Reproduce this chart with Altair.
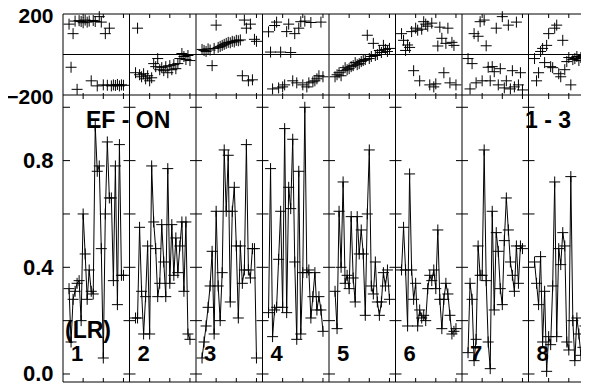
import altair as alt
import pandas as pd

PANELS = ["1", "2", "3", "4", "5", "6", "7", "8"]

AMP_1 = [0.32, 0.12, 0.28, 0.31, 0.34, 0.35, 0.20, 0.60, 0.45, 0.28, 0.39, 0.31, 0.30, 0.93,
         0.76, 0.78, 0.47, 0.06, 0.60, 0.87, 0.66, 0.66, 0.35, 0.78, 0.26, 0.86, 0.37, 0.37]
AMP_2 = [0.21, 0.21, 0.55, 0.31, 0.15, 0.29, 0.48, 0.15, 0.78, 0.57, 0.47, 0.29, 0.34, 0.56,
         0.42, 0.29, 0.77, 0.34, 0.56, 0.37, 0.51, 0.38, 0.48, 0.57, 0.31, 0.57, 0.15, 0.13]
AMP_3 = [0.06, 0.12, 0.18, 0.25, 0.33, 0.46, 0.15, 0.61, 0.33, 0.20, 0.38, 0.84, 0.61, 0.82,
         0.27, 0.61, 0.70, 0.48, 0.21, 0.48, 0.34, 0.39, 0.86, 0.39, 0.36, 0.47, 0.47, 0.06]
AMP_4 = [0.23, 0.77, 0.14, 0.24, 0.25, 0.43, 0.61, 0.25, 0.92, 0.23, 0.70, 0.62, 0.88, 0.42,
         0.13, 0.76, 0.15, 0.38, 1.00, 0.38, 0.39, 0.21, 0.29, 0.38, 0.24, 0.29, 0.24, 0.16]
AMP_5 = [0.31, 0.17, 0.61, 0.40, 0.72, 0.34, 0.37, 0.32, 0.59, 0.36, 0.27, 0.59, 0.45, 0.54,
         0.45, 0.22, 0.60, 0.84, 0.33, 0.30, 0.42, 0.27, 0.22, 0.27, 0.38, 0.33, 0.39, 0.28]
AMP_6 = [0.39, 0.55, 0.39, 0.18, 0.75, 0.39, 0.28, 0.34, 0.18, 0.24, 0.21, 0.22, 0.20, 0.32,
         0.37, 0.35, 0.39, 0.32, 0.54, 0.28, 0.17, 0.28, 0.34, 0.30, 0.22, 0.15, 0.16, 0.17]
AMP_7 = [0.08, 0.34, 0.28, 0.05, 0.13, 0.48, 0.37, 0.37, 0.84, 0.35, 0.12, 0.02, 0.61, 0.24,
         0.53, 0.46, 0.32, 0.26, 0.50, 0.66, 0.54, 0.42, 0.37, 0.31, 0.48, 0.34, 0.48, 0.47]
AMP_8 = [0.42, 0.34, 0.26, 0.44, 0.12, 0.31, 0.01, 0.14, 0.11, 0.33, 0.72, 0.14, 0.47, 0.41,
         0.53, 0.48, 0.12, 0.09, 0.74, 0.20, 0.05, 0.21, 0.15, 0.07, 0.10, 0.18, 0.12, 0.20]

PHASE_1 = [150, -63, 103, 165, -172, 167, 163, 157, 170, 160, 165, -130, 168, 163,
           -155, 187, 160, -150, 103, -152, 130, -155, -150, -153, -148, -155, -150, -152]
PHASE_2 = [-90, 130, -100, -110, -95, -120, -105, -130, -115, -45, -60, -20, -75, -65,
           -80, -60, -90, -55, -75, -50, -70, -45, -20, 5, -10, -25, -5, -30]
PHASE_3 = [25, 20, 15, 28, 22, -55, 30, 145, 35, 40, 45, 50, 55, 60,
           58, 65, 62, 70, 68, 72, -105, 170, 130, -130, 150, -125, 75, 65]
PHASE_4 = [112, 12, -170, 143, 160, -165, 12, -160, -150, 113, 150, 10, -130, 103,
           -140, 130, 162, -150, 165, -160, -140, 158, -135, -130, -120, -105, 160, -110]
PHASE_5 = [-110, -100, -90, -105, -80, -65, -75, -70, -60, -55, -40, -50, -45, -35,
           -30, -25, 95, -20, -10, 55, -5, 0, 20, 10, 45, 25, 15, 30]
PHASE_6 = [103, 70, 20, 47, 35, 113, -80, 130, 120, -130, 125, 162, 150, 140,
           -150, 155, -160, -145, 42, 135, 80, -90, 55, 130, -140, 60, 45, -150]
PHASE_7 = [-20, -170, -45, 103, -140, 90, 162, -130, 170, 43, -63, -130, -60, -85,
           130, -150, -70, 187, -165, -130, 145, -170, -80, -160, 160, -150, -90, -175]
PHASE_8 = [-20, -130, -90, 15, 30, -40, 45, 103, -60, -65, 130, 145, -95, -110,
           70, -75, -35, -15, -150, -25, -20, -10, -30, -15, -5, -20, -10, -25]

AMP_DOMAIN = [-0.03, 1.046]
PHASE_DOMAIN = [-200, 200]
AMP_TICKS = [0.0, 0.2, 0.4, 0.6, 0.8, 1.0]
AMP_LABELS = [0.0, 0.4, 0.8]
PHASE_LABELS = [-200, 200]
PHASE_LINES = [200, 0, -200]
MINOR_TICKS = [10, 20, 30]
PANEL_LEN = 33
FIRST_SAMPLE = 3

TITLE = "Uncalibrated and no bandpass applied"

amp_lists = [AMP_1, AMP_2, AMP_3, AMP_4, AMP_5, AMP_6, AMP_7, AMP_8]
phase_lists = [PHASE_1, PHASE_2, PHASE_3, PHASE_4, PHASE_5, PHASE_6, PHASE_7, PHASE_8]

rows = []
for p, (amps, phases) in enumerate(zip(amp_lists, phase_lists)):
    for i, (a, ph) in enumerate(zip(amps, phases)):
        rows.append({"panel": PANELS[p], "x": p * PANEL_LEN + FIRST_SAMPLE + i,
                     "amp": a, "phase": ph})
df = pd.DataFrame(rows)

n = len(PANELS)
starts = pd.DataFrame({"bx": [p * PANEL_LEN for p in range(n)], "label": PANELS})
dividers = pd.DataFrame({"bx": [p * PANEL_LEN for p in range(0, n + 1)]})
minor = pd.DataFrame({"bx": [p * PANEL_LEN + t for p in range(n) for t in MINOR_TICKS]})
ytick_inner = pd.DataFrame([{"bx": p * PANEL_LEN, "amp": v}
                            for p in range(1, n + 1) for v in AMP_TICKS])
ytick_left = pd.DataFrame([{"bx": 0, "amp": v} for v in AMP_TICKS])
phase_lines = pd.DataFrame({"phase": PHASE_LINES})
amp_floor = pd.DataFrame({"amp": [AMP_DOMAIN[0]]})

FONT = "Liberation Sans"
CROSS = "M-1,0L1,0M0,-1L0,1"

# full frame is 532 px wide; the page only shows the first 518 px of it
xscale = alt.Scale(domain=[0, n * PANEL_LEN], range=[0, 532], nice=False, zero=False)
phase_scale = alt.Scale(domain=PHASE_DOMAIN, range=[81, 0], nice=False, zero=False)
amp_scale = alt.Scale(domain=AMP_DOMAIN, range=[368, 81], nice=False, zero=False)

axis_common = dict(title=None, orient="left", ticks=False, domain=False, grid=False,
                   labelPadding=10, labelFont=FONT,
                   labelFontWeight="bold", labelColor="black")
phase_axis = alt.Axis(values=PHASE_LABELS, format="d", labelOffset=2, labelFontSize=21,
                      **axis_common)
amp_axis = alt.Axis(values=AMP_LABELS, format=".1f", labelFontSize=22, **axis_common)


def X(field):
    return alt.X(f"{field}:Q", scale=xscale, axis=None)


def YP():
    return alt.Y("phase:Q", scale=phase_scale, axis=phase_axis)


def YA():
    return alt.Y("amp:Q", scale=amp_scale, axis=amp_axis)


LINE = dict(color="black", strokeWidth=1)

# ---- phase panel ----
phase_pts = alt.Chart(df).mark_point(
    shape=CROSS, size=121, filled=False, strokeWidth=1, color="black", opacity=1
).encode(x=X("x"), y=YP())
phase_rules = alt.Chart(phase_lines).mark_rule(**LINE).encode(y=YP())
phase_layer = alt.layer(phase_pts, phase_rules)

# ---- amplitude panel ----
amp_line = alt.Chart(df).mark_line(**LINE).encode(x=X("x"), y=YA(), detail="panel:N")
amp_pts = alt.Chart(df).mark_point(
    shape=CROSS, size=121, filled=False, strokeWidth=1, color="black", opacity=1
).encode(x=X("x"), y=YA())
floor_rule = alt.Chart(amp_floor).mark_rule(**LINE).encode(y=YA())
yt_inner = alt.Chart(ytick_inner).mark_rule(xOffset=-6, x2Offset=6, **LINE).encode(
    x=X("bx"), x2="bx:Q", y=YA())
yt_left = alt.Chart(ytick_left).mark_rule(x2Offset=7, **LINE).encode(
    x=X("bx"), x2="bx:Q", y=YA())
div_rules = alt.Chart(dividers).mark_rule(**LINE).encode(x=X("bx"))
top_ticks = alt.Chart(minor).mark_rule(**LINE).encode(
    x=X("bx"), y=alt.value(0), y2=alt.value(4))
mid_ticks = alt.Chart(minor).mark_rule(**LINE).encode(
    x=X("bx"), y=alt.value(79), y2=alt.value(85))
bot_ticks = alt.Chart(minor).mark_rule(**LINE).encode(
    x=X("bx"), y=alt.value(364), y2=alt.value(368))

txt = dict(font=FONT, fontWeight="bold", color="black", align="left", baseline="middle")
first = "datum.bx == 0"
panel_nums = alt.Chart(starts).mark_text(dx=8, fontSize=22, **txt).encode(
    x=X("bx"), y=alt.value(340), text="label:N")
ef_on = alt.Chart(starts).transform_filter(first).mark_text(
    text="EF - ON", fontSize=23, **txt).encode(x=alt.value(23), y=alt.value(107))
one_three = alt.Chart(starts).transform_filter(first).mark_text(
    text="1 - 3", fontSize=23, **txt).encode(x=alt.value(462), y=alt.value(107))
lr = alt.Chart(starts).transform_filter(first).mark_text(
    text="(LR)", fontSize=23, **txt).encode(x=alt.value(2), y=alt.value(316.5))

amp_layer = alt.layer(amp_line, amp_pts, floor_rule, yt_inner, yt_left, div_rules,
                      top_ticks, mid_ticks, bot_ticks,
                      panel_nums, ef_on, one_three, lr)

chart = alt.layer(phase_layer, amp_layer).resolve_scale(y="independent").properties(
    width=518,
    height=368,
    autosize=alt.AutoSizeParams(type="none"),
    padding={"left": 55, "top": 6, "right": 0, "bottom": 4},
    title=alt.Title(TITLE, anchor="end", dx=-278, offset=2, font=FONT,
                    fontSize=22, fontWeight="bold", color="black"),
).configure_view(strokeWidth=0)

chart.save("out.html", embed_options={"renderer": "svg", "actions": False})
